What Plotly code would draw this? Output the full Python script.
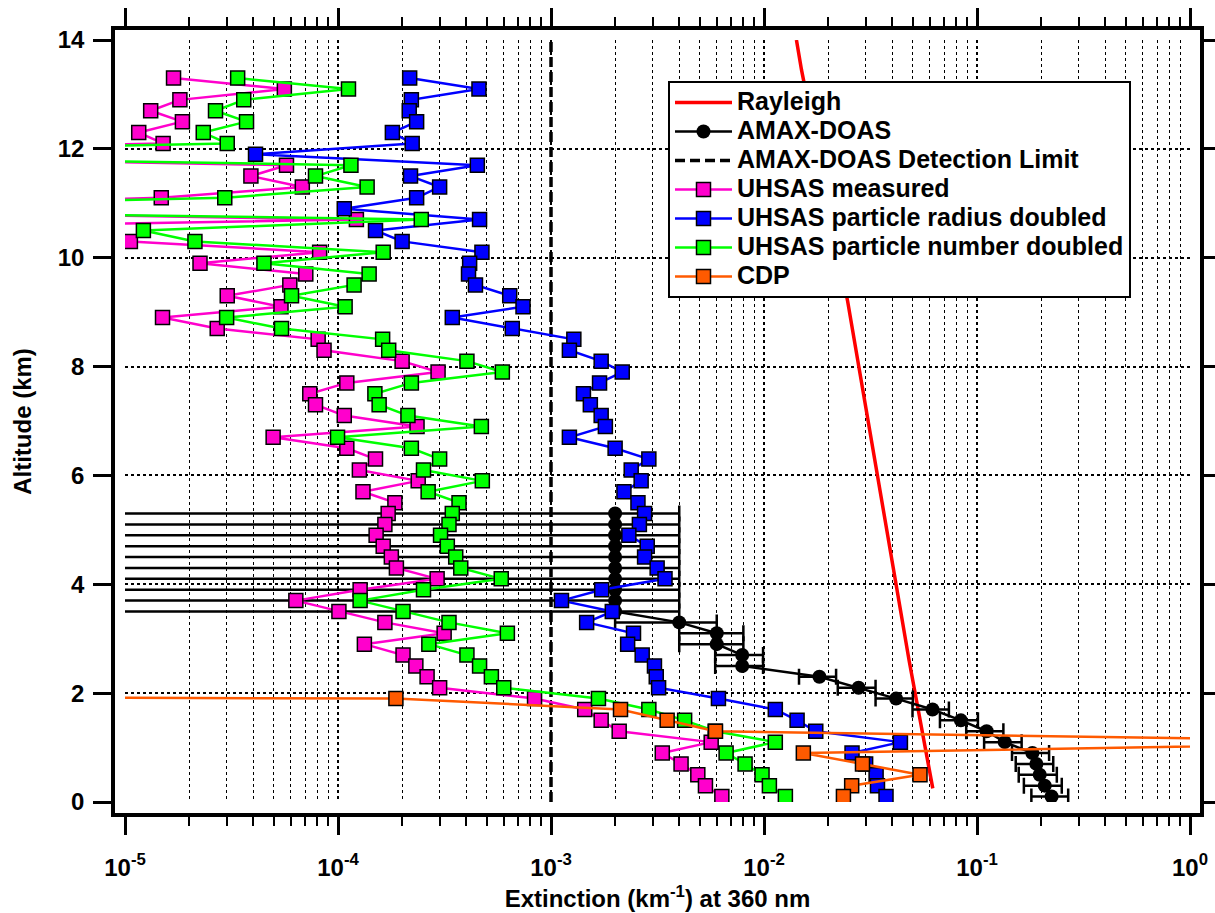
import plotly.graph_objects as go

# ---------------- data ----------------
# UHSAS altitudes (km), top to bottom
alt_uhsas = [13.3, 13.1, 12.9, 12.7, 12.5, 12.3, 12.1, 11.9, 11.7, 11.5,
             11.3, 11.1, 10.9, 10.7, 10.5, 10.3, 10.1, 9.9, 9.7, 9.5,
             9.3, 9.1, 8.9, 8.7, 8.5, 8.3, 8.1, 7.9, 7.7, 7.5,
             7.3, 7.1, 6.9, 6.7, 6.5, 6.3, 6.1, 5.9, 5.7, 5.5,
             5.3, 5.1, 4.9, 4.7, 4.5, 4.3, 4.1, 3.9, 3.7, 3.5,
             3.3, 3.1, 2.9, 2.7, 2.5, 2.3, 2.1, 1.9, 1.7, 1.5,
             1.3, 1.1, 0.9, 0.7, 0.5, 0.3, 0.1]

# values below the axis range (off-scale to the left) are given as 1e-7
uhsas_measured = [1.69e-5, 5.6e-5, 1.81e-5, 1.32e-5, 1.86e-5, 1.16e-5, 1.51e-5, 1e-7, 5.73e-5, 3.9e-5,
                  6.8e-5, 1.48e-5, 1e-7, 1.22e-4, 1e-7, 1.06e-5, 8.2e-5, 2.25e-5, 7.06e-5, 5.94e-5,
                  3.02e-5, 5.4e-5, 1.5e-5, 2.71e-5, 8.07e-5, 8.6e-5, 2.0e-4, 2.95e-4, 1.10e-4, 7.37e-5,
                  7.84e-5, 1.07e-4, 2.35e-4, 4.96e-5, 1.10e-4, 1.50e-4, 1.26e-4, 2.38e-4, 1.31e-4, 1.85e-4,
                  1.72e-4, 1.66e-4, 1.51e-4, 1.63e-4, 1.78e-4, 1.88e-4, 2.92e-4, 1.27e-4, 6.34e-5, 1.01e-4,
                  1.66e-4, 3.15e-4, 1.33e-4, 2.02e-4, 2.32e-4, 2.62e-4, 3.0e-4, 8.37e-4, 1.44e-3, 1.72e-3,
                  2.09e-3, 5.65e-3, 3.33e-3, 4.08e-3, 4.89e-3, 5.31e-3, 6.34e-3]

uhsas_radius_doubled = [2.17e-4, 4.59e-4, 2.21e-4, 2.16e-4, 2.34e-4, 1.80e-4, 2.23e-4, 4.1e-5, 4.51e-4, 2.19e-4,
                        3.0e-4, 2.34e-4, 1.07e-4, 4.62e-4, 1.50e-4, 2.0e-4, 4.74e-4, 4.15e-4, 4.1e-4, 4.42e-4,
                        6.4e-4, 7.39e-4, 3.44e-4, 6.58e-4, 1.28e-3, 1.22e-3, 1.72e-3, 2.16e-3, 1.69e-3, 1.42e-3,
                        1.53e-3, 1.72e-3, 1.80e-3, 1.22e-3, 2.0e-3, 2.88e-3, 2.38e-3, 2.65e-3, 2.2e-3, 2.56e-3,
                        2.75e-3, 2.6e-3, 2.32e-3, 2.83e-3, 2.75e-3, 3.15e-3, 3.43e-3, 1.73e-3, 1.12e-3, 1.94e-3,
                        1.47e-3, 2.44e-3, 2.29e-3, 2.68e-3, 3.06e-3, 3.12e-3, 3.2e-3, 6.11e-3, 1.13e-2, 1.43e-2,
                        1.75e-2, 4.37e-2, 2.59e-2, 3.0e-2, 3.36e-2, 3.41e-2, 3.74e-2]

uhsas_number_doubled = [3.38e-5, 1.12e-4, 3.61e-5, 2.66e-5, 3.72e-5, 2.33e-5, 3.02e-5, 1e-7, 1.15e-4, 7.84e-5,
                        1.37e-4, 2.94e-5, 1e-7, 2.46e-4, 1.22e-5, 2.13e-5, 1.63e-4, 4.49e-5, 1.40e-4, 1.19e-4,
                        6.05e-5, 1.08e-4, 3.0e-5, 5.43e-5, 1.62e-4, 1.73e-4, 4.03e-4, 5.91e-4, 2.21e-4, 1.49e-4,
                        1.56e-4, 2.13e-4, 4.71e-4, 9.95e-5, 2.21e-4, 3.0e-4, 2.52e-4, 4.76e-4, 2.65e-4, 3.70e-4,
                        3.44e-4, 3.32e-4, 3.03e-4, 3.26e-4, 3.57e-4, 3.77e-4, 5.84e-4, 2.52e-4, 1.27e-4, 2.02e-4,
                        3.32e-4, 6.24e-4, 2.67e-4, 4.03e-4, 4.62e-4, 5.25e-4, 6.0e-4, 1.67e-3, 2.88e-3, 4.24e-3,
                        5.9e-3, 1.13e-2, 6.64e-3, 8.15e-3, 9.79e-3, 1.06e-2, 1.26e-2]

# CDP (cloud droplet probe); the 2.1 km value is ~0 (off-scale left), 1.1 km is off-scale right
alt_cdp = [2.1, 1.9, 1.7, 1.5, 1.3, 1.1, 0.9, 0.7, 0.5, 0.3, 0.1]
cdp = [1e-20, 1.87e-4, 2.12e-3, 3.51e-3, 5.92e-3, 18.0, 1.53e-2, 2.9e-2, 5.4e-2, 2.58e-2, 2.36e-2]

# AMAX-DOAS retrieval with error
alt_amax = [0.1, 0.3, 0.5, 0.7, 0.9, 1.1, 1.3, 1.5, 1.7, 1.9,
            2.1, 2.3, 2.5, 2.7, 2.9, 3.1, 3.3, 3.5, 3.7, 3.9,
            4.1, 4.3, 4.5, 4.7, 4.9, 5.1, 5.3]
amax = [0.224, 0.208, 0.197, 0.190, 0.182, 0.135, 0.111, 0.084, 0.0618, 0.0417,
        0.0278, 0.0182, 0.0079, 0.0079, 0.0060, 0.0060, 0.0040, 0.0020, 0.0020, 0.0020,
        0.0020, 0.0020, 0.0020, 0.0020, 0.0020, 0.0020, 0.0020]
amax_err = [0.044, 0.042, 0.040, 0.038, 0.036, 0.027, 0.022, 0.017, 0.012, 0.0083,
            0.0056, 0.0036, 0.0020, 0.0020, 0.0020, 0.0020, 0.0020, 0.0020, 0.0020, 0.0020,
            0.0020, 0.0020, 0.0020, 0.0020, 0.0020, 0.0020, 0.0020]

# Rayleigh extinction profile
alt_rayleigh = [0.25, 2.6, 9.2, 13.45, 14.0]
rayleigh = [6.2e-2, 4.8e-2, 2.47e-2, 1.5e-2, 1.42e-2]

# detection limit
detection_limit = 1e-3
detection_alt = [0, 14]

# axis ticks
x_decades = [1e-5, 1e-4, 1e-3, 1e-2, 1e-1, 1e0]
x_decade_labels = ["10<sup>-5</sup>", "10<sup>-4</sup>", "10<sup>-3</sup>",
                   "10<sup>-2</sup>", "10<sup>-1</sup>", "10<sup>0</sup>"]
x_minor = [k * d for d in x_decades[:-1] for k in range(2, 10)]
y_ticks = [0, 2, 4, 6, 8, 10, 12, 14]

# ---------------- geometry ----------------
W, H = 1215, 913
ML, MR, MT, MB = 115, 15, 30, 100
PW = W - ML - MR      # frame width
PH = H - MT - MB      # frame height
STAND_X = 10          # axis standoff (px)
STAND_TOP = 10
STAND_BOT = 11
inner_w = PW - 2 * STAND_X
inner_h = PH - STAND_TOP - STAND_BOT
dec_px = inner_w / 5.0
km_px = inner_h / 14.0

FONT = "Liberation Sans, Arial, sans-serif"
BIG = 25

fig = go.Figure()

# invisible trace that makes the framing axes (x / y) render
fig.add_trace(go.Scatter(x=rayleigh, y=alt_rayleigh, mode="markers", marker=dict(opacity=0),
                         showlegend=False, hoverinfo="skip", xaxis="x", yaxis="y"))

marker_line = dict(color="black", width=1.5)

def lab(s):
    return '<span style="font-size:%dpx;font-weight:bold">%s</span>' % (BIG, s)

fig.add_trace(go.Scatter(x=rayleigh, y=alt_rayleigh, mode="lines", name=lab("Rayleigh"),
                         line=dict(color="#ff0000", width=3.5), xaxis="x2", yaxis="y2"))
fig.add_trace(go.Scatter(x=amax, y=alt_amax, mode="lines+markers", name=lab("AMAX-DOAS"),
                         line=dict(color="black", width=2.5),
                         marker=dict(symbol="circle", size=14, color="black"),
                         error_x=dict(type="data", array=amax_err, color="black", thickness=2.5, width=8),
                         xaxis="x2", yaxis="y2"))
fig.add_trace(go.Scatter(x=[detection_limit, detection_limit], y=detection_alt, mode="lines",
                         name=lab("AMAX-DOAS Detection Limit"),
                         line=dict(color="black", width=3.5, dash="10px,5px"),
                         xaxis="x2", yaxis="y2"))

def uhsas(x, y, name, color):
    return go.Scatter(x=x, y=y, mode="lines+markers", name=lab(name),
                      line=dict(color=color, width=2.5),
                      marker=dict(symbol="square", size=14, color=color, line=marker_line),
                      xaxis="x2", yaxis="y2")

fig.add_trace(uhsas(uhsas_measured, alt_uhsas, "UHSAS measured", "#ff00cc"))
fig.add_trace(uhsas(uhsas_radius_doubled, alt_uhsas, "UHSAS particle radius doubled", "#0000ff"))
fig.add_trace(uhsas(uhsas_number_doubled, alt_uhsas, "UHSAS particle number doubled", "#00ff00"))
fig.add_trace(uhsas(cdp, alt_cdp, "CDP", "#ff5a00"))

frame_xrange = [-5 - STAND_X / dec_px, 0 + STAND_X / dec_px]
frame_yrange = [0 - STAND_BOT / km_px, 14 + STAND_TOP / km_px]

fig.update_layout(
    width=W, height=H,
    margin=dict(l=ML, r=MR, t=MT, b=MB, pad=0, autoexpand=False),
    paper_bgcolor="white", plot_bgcolor="white",
    font=dict(family=FONT, size=24, color="black", weight="bold"),
    xaxis=dict(type="log", range=frame_xrange, domain=[0, 1], anchor="y", automargin=False,
               showline=True, linewidth=3.5, linecolor="black", mirror="allticks",
               ticks="outside", ticklen=18, tickwidth=3, tickcolor="black",
               tickvals=x_decades, ticktext=x_decade_labels, ticklabelstandoff=12,
               tickfont=dict(size=24, family=FONT, weight="bold"),
               minor=dict(tickvals=x_minor, ticks="outside", ticklen=9, tickwidth=2,
                          tickcolor="black", showgrid=False),
               showgrid=False, zeroline=False,
               title=dict(text="Extinction (km<sup>-1</sup>) at 360 nm",
                          font=dict(size=24, family=FONT, weight="bold"), standoff=12)),
    yaxis=dict(range=frame_yrange, domain=[0, 1], anchor="x", automargin=False,
               showline=True, linewidth=3.5, linecolor="black", mirror="allticks",
               ticks="outside", ticklen=18, tickwidth=3, tickcolor="black",
               tickvals=y_ticks, tickfont=dict(size=24, family=FONT, weight="bold"),
               ticklabelstandoff=4,
               showgrid=False, zeroline=False,
               title=dict(text="Altitude (km)", font=dict(size=24, family=FONT, weight="bold"),
                          standoff=20)),
    xaxis2=dict(type="log", range=[-5, 0], automargin=False,
                domain=[STAND_X / PW, 1 - STAND_X / PW], anchor="y2",
                showline=False, ticks="", showticklabels=False, zeroline=False,
                tickvals=x_decades, showgrid=True, gridcolor="black", griddash="dot", gridwidth=1.6,
                minor=dict(tickvals=x_minor, showgrid=True, gridcolor="black",
                           griddash="dot", gridwidth=1)),
    yaxis2=dict(range=[0, 14], domain=[STAND_BOT / PH, 1 - STAND_TOP / PH], anchor="x2",
                automargin=False,
                showline=False, ticks="", showticklabels=False, zeroline=False,
                tickvals=y_ticks, showgrid=True, gridcolor="black", griddash="dot", gridwidth=2),
    legend=dict(x=(668 - ML) / PW, y=(H - MB - 81) / PH, xanchor="left", yanchor="top",
                bgcolor="white", bordercolor="black", borderwidth=2,
                font=dict(size=20, family=FONT, weight="bold"),
                itemwidth=57, tracegroupgap=0),
    showlegend=True,
)

fig.write_html("out.html", config={"displayModeBar": False},
               post_script="document.body.style.margin='0';")
